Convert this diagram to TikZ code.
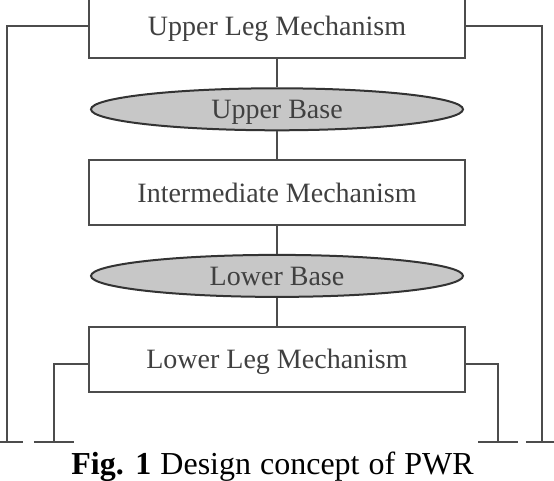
\documentclass[tikz,border=0pt]{standalone}
\usepackage{fontspec}
\setmainfont{Liberation Serif}
\usetikzlibrary{positioning,shapes.geometric}
\begin{document}
\begin{tikzpicture}[x=0.5pt,y=-0.5pt,
				line width=1pt,draw=black!70,
				every node/.style={text=black!75,text depth=0pt,font=\fontsize{14}{16}\selectfont},
				mech/.style={rectangle,draw=black!70,minimum width=188pt,minimum height=32.5pt,inner sep=0pt},
				base/.style={ellipse,draw=black!80,fill=black!22,minimum width=186pt,minimum height=21pt,inner sep=0pt},
				node distance=13.9pt]
\useasboundingbox (0,0) rectangle (554,481);
% blocks
\node[mech] (upperleg) at (277,26) {Upper Leg Mechanism};
\node[base,below=of upperleg] (upperbase) {Upper Base};
\node[mech,below=of upperbase] (intermech) {Intermediate Mechanism};
\node[base,below=of intermech] (lowerbase) {Lower Base};
\node[mech,below=of lowerbase] (lowerleg) {Lower Leg Mechanism};
% ground points
\coordinate (gndLo) at (7.5,442);
\coordinate (gndLi) at (54,442);
\coordinate (gndRi) at (498.5,442);
\coordinate (gndRo) at (542,442);
% links
\draw[black!70] (upperleg) -- (upperbase) -- (intermech) -- (lowerbase) -- (lowerleg);
\draw[black!70] (upperleg.west) -| (gndLo);
\draw[black!70] (upperleg.east) -| (gndRo);
\draw[black!70] ([yshift=-2.25pt]lowerleg.west) -| (gndLi);
\draw[black!70] ([yshift=-2.25pt]lowerleg.east) -| (gndRi);
% ground
\draw[black!70] ([xshift=-8pt]gndLo) -- ([xshift=8pt]gndLo);
\draw[black!70] ([xshift=-10pt]gndLi) -- ([xshift=10pt]gndLi);
\draw[black!70] ([xshift=-10pt]gndRi) -- ([xshift=10pt]gndRi);
\draw[black!70] ([xshift=-8pt]gndRo) -- ([xshift=8pt]gndRo);
% caption
\node[anchor=base,text=black,font=\fontsize{16}{18}\selectfont] (caption) at (272.5,475) {\spaceskip=4.5pt\textbf{Fig. 1} Design concept of PWR};
\end{tikzpicture}
\end{document}
